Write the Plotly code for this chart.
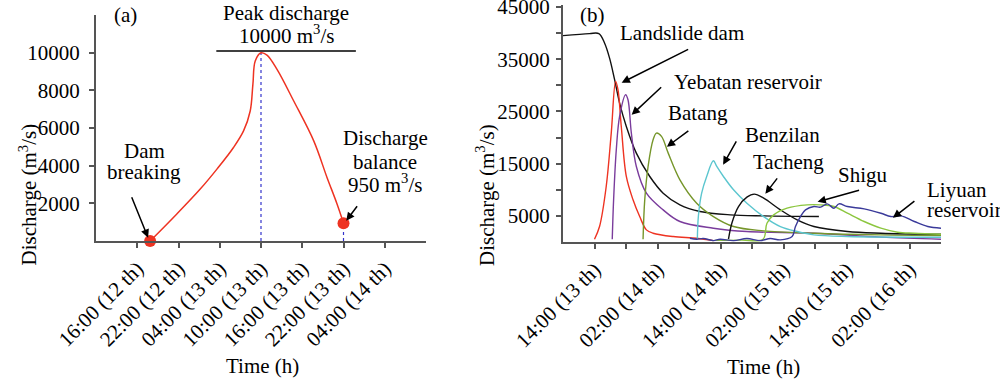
import plotly.graph_objects as go

FONT = "Liberation Serif, Times New Roman, Tinos, serif"

# ---------------- Panel (a) data: hours after 10:00 (12th) ----------------
a_hours = [7.87, 11.76, 15.16, 17.59, 20.0, 21.46, 22.43, 22.82, 23.16, 24.0,
           24.87, 26.33, 28.76, 31.67, 33.6, 35.06, 36.0]
a_flow = [0, 1440, 2760, 3820, 4970, 5850, 6910, 8320, 9560, 10000,
          9880, 9120, 7440, 5320, 3380, 1970, 950]
a_event_hours = [7.87, 36.0]
a_event_flow = [0, 950]
a_peak_hour = 24.0
a_peak_flow = 10000
a_tickvals = [6, 12, 18, 24, 30, 36, 42]
a_ticktext = ["16:00 (12 th)", "22:00 (12 th)", "04:00 (13 th)", "10:00 (13 th)",
              "16:00 (13 th)", "22:00 (13 th)", "04:00 (14 th)"]
a_yticks = [2000, 4000, 6000, 8000, 10000]
a_yticktext = ["2000", "4000", "6000", "8000", "10000"]

# ---------------- Panel (b) data: hours after 14:00 (13th) ----------------
res_h = [-6.06, -0.96, 0.83, 1.91, 2.87, 3.83, 4.78, 6.06, 7.97, 10.53, 13.08,
         16.27, 20.1, 25.84, 32.2, 42.74]
res_q = [39500, 39900, 39900, 38100, 35200, 31070, 26600, 22120, 17010, 12540,
         9350, 7110, 5830, 5200, 5000, 4880]

dam_h = [0, 0.96, 2.23, 3.19, 4.02, 4.47, 5.1, 6.06, 7.34, 8.61, 9.89, 11.16,
         14.99, 19.46, 22.65]
dam_q = [530, 2960, 10630, 20850, 30750, 29150, 22120, 12540, 8070, 4870, 2320,
         1680, 1040, 720, 270]

yeb_h = [3.38, 3.64, 4.15, 4.78, 5.93, 6.38, 7.02, 7.97, 9.89, 13.08, 16.27,
         22.65, 29.03, 41.79, 54.55, 66.0]
yeb_q = [530, 8070, 17650, 24040, 28200, 27230, 20850, 14460, 9350, 6150, 3920,
         2640, 2000, 1680, 930, 530]

bat_h = [9.25, 9.57, 10.21, 11.16, 11.8, 12.76, 14.04, 16.27, 19.46, 22.65,
         26.48, 32.22, 41.79, 54.55, 66.0]
bat_q = [530, 8070, 14460, 19570, 20850, 20210, 17010, 11900, 7430, 4870,
         2960, 2130, 1680, 1360, 1230]

ben_h = [19.59, 19.78, 20.41, 21.37, 22.65, 23.29, 24.56, 26.48, 29.03, 32.22,
         35.41, 38.6, 41.79, 48.17, 66.0]
ben_q = [530, 4870, 9350, 12540, 15540, 14460, 12540, 9990, 7430, 4870, 2960,
         2000, 1360, 1040, 910]

tac_h = [25.52, 26.16, 27.43, 29.03, 30.43, 32.22, 35.41, 38.6, 41.79, 48.17,
         54.55, 66.0]
tac_q = [530, 3600, 6790, 8580, 9160, 8390, 6150, 4240, 2960, 2000, 1680, 1490]

shi_h = [23.0, 28.0, 32.1, 32.85, 34.13, 36.68, 40.51, 43.06, 45.61, 48.17,
         51.36, 54.55, 57.73, 60.92, 66.0]
shi_q = [300, 350, 530, 3600, 5190, 6470, 7110, 7110, 6790, 5510, 3920, 2640,
         1870, 1680, 1490]

liy_h = [18.18, 19.46, 20.73, 22.65, 23.92, 26.48, 29.03, 31.58, 33.49, 35.41,
         37.64, 38.28, 39.23, 40.19, 41.79, 43.06, 44.34, 45.61, 46.57, 48.17,
         51.36, 54.55, 56.46, 58.37, 60.92, 63.48, 66.0]
liy_q = [720, 530, 660, 270, 530, 270, 660, 270, 660, 400, 1040, 2960, 4870,
         6150, 6790, 6670, 7300, 6470, 7300, 6790, 6340, 5510, 4870, 5000, 3920,
         2960, 2640]

b_tickvals = [0, 6, 12, 18, 24, 30, 36, 42, 48, 54, 60]
b_ticktext = ["14:00 (13 th)", "", "02:00 (14 th)", "", "14:00 (14 th)", "",
              "02:00 (15 th)", "", "14:00 (15 th)", "", "02:00 (16 th)"]
b_ytickvals = [5000, 10000, 15000, 20000, 25000, 30000, 35000, 40000, 45000]
b_yticktext = ["5000", "", "15000", "", "25000", "", "35000", "", "45000"]

series_b = [
    ("Reservoir", res_h, res_q, "#111111"),
    ("Landslide dam", dam_h, dam_q, "#ee3322"),
    ("Yebatan reservoir", yeb_h, yeb_q, "#7a3c9c"),
    ("Batang", bat_h, bat_q, "#76962b"),
    ("Benzilan", ben_h, ben_q, "#5cc6cf"),
    ("Tacheng", tac_h, tac_q, "#111111"),
    ("Shigu", shi_h, shi_q, "#8cc63f"),
    ("Liyuan reservoir", liy_h, liy_q, "#3a3a9a"),
]

fig = go.Figure()

# Panel (a)
fig.add_trace(go.Scatter(x=[a_peak_hour, a_peak_hour], y=[0, a_peak_flow], mode="lines",
                         line=dict(color="#3333cc", width=1.2, dash="dot"),
                         xaxis="x", yaxis="y", showlegend=False))
fig.add_trace(go.Scatter(x=[a_event_hours[1], a_event_hours[1]], y=[0, a_event_flow[1]],
                         mode="lines", line=dict(color="#3333cc", width=1.2, dash="dot"),
                         xaxis="x", yaxis="y", showlegend=False))
fig.add_trace(go.Scatter(x=a_hours, y=a_flow, mode="lines", line=dict(color="#ee3322", width=1.5),
                         line_shape="spline", xaxis="x", yaxis="y", showlegend=False))
fig.add_trace(go.Scatter(x=a_event_hours, y=a_event_flow, mode="markers",
                         marker=dict(color="#ee3322", size=12), cliponaxis=False,
                         xaxis="x", yaxis="y", showlegend=False))

# Panel (b)
for name, h, q, c in series_b:
    fig.add_trace(go.Scatter(x=h, y=q, mode="lines", name=name, line=dict(color=c, width=1.4),
                             line_shape="spline", xaxis="x2", yaxis="y2", showlegend=False))

axis_common = dict(showline=True, linecolor="#555555", linewidth=2, ticks="outside",
                   ticklen=5, tickwidth=1.5, tickcolor="#555555", showgrid=False,
                   zeroline=False, automargin=False, ticklabeloverflow="allow",
                   tickfont=dict(family=FONT, size=21, color="black"))

fig.update_layout(
    width=1000, height=379,
    margin=dict(l=0, r=0, t=0, b=0, pad=0),
    paper_bgcolor="white", plot_bgcolor="white",
    font=dict(family=FONT, size=21, color="black"),
    xaxis=dict(domain=[0.096, 0.426], range=[0, 48], tickvals=a_tickvals,
               ticktext=a_ticktext, tickangle=-45, anchor="y", **axis_common),
    yaxis=dict(domain=[0.364, 0.960], range=[0, 12000], tickvals=a_yticks,
               ticktext=a_yticktext, anchor="x", ticklabelstandoff=5, **axis_common),
    xaxis2=dict(domain=[0.563, 0.941], range=[-6, 66], tickvals=b_tickvals,
                ticktext=b_ticktext, tickangle=-45, anchor="y2", **axis_common),
    yaxis2=dict(domain=[0.3615, 0.9858], range=[0, 45300], tickvals=b_ytickvals,
                ticktext=b_yticktext, anchor="x2", ticklabelstandoff=2, **axis_common),
)

# Peak line in panel (a)
fig.add_shape(type="line", xref="x", yref="y", x0=17.5, x1=37.8, y0=10090, y1=10090,
              line=dict(color="black", width=1.5))

W, H = 1000.0, 379.0

def txt(px, py, s, size=21):
    fig.add_annotation(x=px / W, y=1 - py / H, xref="paper", yref="paper", text=s,
                       showarrow=False, font=dict(family=FONT, size=size, color="black"),
                       xanchor="center", yanchor="middle")

def arrow(x, y, ax, ay, xref, yref):
    fig.add_annotation(x=x, y=y, xref=xref, yref=yref, text="", showarrow=True,
                       ax=ax, ay=ay, arrowhead=2, arrowsize=1.1, arrowwidth=1.5,
                       arrowcolor="black")

M3 = "m<sup>3</sup>/s"
# Panel (a) texts (pixel positions of text centres)
txt(125, 15, "(a)")
txt(286, 13, "Peak discharge")
txt(286, 35, "10000 " + M3)
txt(144, 151, "Dam")
txt(144, 172, "breaking")
arrow(7.58, 180, -17, -42, "x", "y")
txt(385, 138, "Discharge")
txt(385, 162, "balance")
txt(385, 183, "950 " + M3)
arrow(36.4, 1080, 12, -16, "x", "y")

# Panel (b) texts
txt(592, 15, "(b)")
txt(682, 33, "Landslide dam")
arrow(5.17, 30500, 68, -34, "x2", "y2")
txt(748, 82, "Yebatan reservoir")
arrow(7.08, 24340, 31, -29, "x2", "y2")
txt(698, 113, "Batang")
arrow(13.78, 18230, 23, -17, "x2", "y2")
txt(782, 135, "Benzilan")
arrow(24.5, 14780, 14, -25, "x2", "y2")
txt(788, 162, "Tacheng")
arrow(32.54, 9220, 13, -17, "x2", "y2")
txt(863, 175, "Shigu")
arrow(42.49, 7690, 43, -12, "x2", "y2")
txt(957, 190, "Liyuan")
txt(964, 210, "reservoir")
arrow(56.84, 4620, 23, -18, "x2", "y2")

# Axis titles
fig.add_annotation(x=12 / W, y=1 - 122 / H, xref="paper", yref="paper",
                   text="Discharge (" + M3 + ")", textangle=-90, showarrow=False,
                   font=dict(family=FONT, size=21, color="black"))
fig.add_annotation(x=485 / W, y=1 - 122 / H, xref="paper", yref="paper",
                   text="Discharge (" + M3 + ")", textangle=-90, showarrow=False,
                   font=dict(family=FONT, size=21, color="black"))
txt(262, 366, "Time (h)")
txt(763, 367, "Time (h)")

fig.write_html("out.html", config={"displayModeBar": False},
               post_script="document.body.style.margin='0';document.body.style.overflow='hidden';")
